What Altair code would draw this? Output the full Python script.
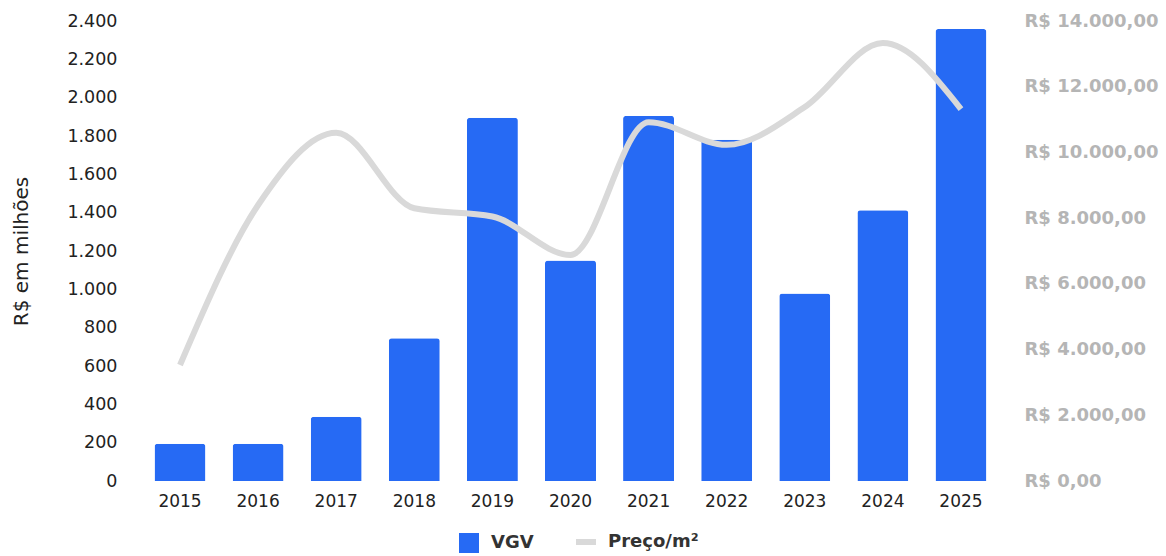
import altair as alt
import pandas as pd

# Dados anuais: VGV (R$ milhões) e preço médio do m² (R$)
anos = ["2015", "2016", "2017", "2018", "2019", "2020", "2021", "2022", "2023", "2024", "2025"]
vgv = [195, 195, 335, 745, 1895, 1150, 1905, 1780, 978, 1412, 2358]
preco_m2 = [3530, 8400, 10600, 8300, 8050, 6880, 10920, 10230, 11380, 13330, 11320]

series = ["VGV", "Preço/m²"]
cores = ["#266AF4", "#D9D9D9"]

df = pd.DataFrame({
    "ano": anos,
    "vgv": vgv,
    "preco": preco_m2,
    "serie_barra": series[0],
    "serie_linha": series[1],
})

FONT = "DejaVu Sans"

escala_cor = alt.Scale(domain=series, range=cores)

legenda = alt.Legend(
    title=None,
    orient="none",
    legendX=325,
    legendY=512,
    direction="horizontal",
    symbolSize=400,
    symbolType=alt.ExprRef(expr="datum.value === 'VGV' ? 'square' : 'stroke'"),
    symbolFillColor=alt.ExprRef(expr="datum.value === 'VGV' ? '#266AF4' : 'transparent'"),
    symbolStrokeColor=alt.ExprRef(expr="datum.value === 'VGV' ? '#266AF4' : '#D9D9D9'"),
    symbolStrokeWidth=alt.ExprRef(expr="datum.value === 'VGV' ? 0 : 6"),
    labelFont=FONT,
    labelFontSize=18,
    labelFontWeight="bold",
    labelColor="#333333",
    labelOffset=13,
    columnPadding=30,
)

eixo_x = alt.X(
    "ano:O",
    title=None,
    scale=alt.Scale(paddingInner=0.347, paddingOuter=0.25),
    axis=alt.Axis(
        labelAngle=0,
        labelFont=FONT,
        labelFontSize=17,
        labelColor="#222222",
        labelPadding=12,
        domain=False,
        ticks=False,
    ),
)

barras = alt.Chart(df).mark_bar(
    cornerRadiusTopLeft=3, cornerRadiusTopRight=3
).encode(
    x=eixo_x,
    y=alt.Y(
        "vgv:Q",
        scale=alt.Scale(domain=[0, 2400], nice=False),
        axis=alt.Axis(
            orient="left",
            title="R$ em milhões",
            values=list(range(0, 2401, 200)),
            format=",d",
            labelFont=FONT,
            labelFontSize=17.5,
            labelColor="#222222",
            labelPadding=18,
            titleFont=FONT,
            titleFontSize=20,
            titleFontWeight="normal",
            titleColor="#222222",
            titlePadding=35,
            domain=False,
            ticks=False,
            grid=False,
        ),
    ),
    color=alt.Color("serie_barra:N", scale=escala_cor, legend=legenda),
)

linha = alt.Chart(df).mark_line(
    interpolate="monotone", strokeWidth=6
).encode(
    x=eixo_x,
    y=alt.Y(
        "preco:Q",
        scale=alt.Scale(domain=[0, 14000], nice=False),
        axis=alt.Axis(
            orient="right",
            title=None,
            values=list(range(0, 14001, 2000)),
            format="$,.2f",
            labelFont=FONT,
            labelFontSize=18,
            labelFontWeight="bold",
            labelColor="#B5B5B5",
            labelPadding=18,
            domain=False,
            ticks=False,
            grid=False,
        ),
    ),
    color=alt.Color("serie_linha:N", scale=escala_cor, legend=legenda),
)

chart = alt.layer(barras, linha).resolve_scale(
    y="independent"
).properties(
    width=871,
    height=460,
    autosize=alt.AutoSizeParams(type="none"),
    padding={"left": 135, "top": 21, "right": 160, "bottom": 75},
).configure_view(
    stroke=None
)

chart.save(
    "out.html",
    embed_options={
        "renderer": "svg",
        "actions": False,
        "formatLocale": {
            "decimal": ",",
            "thousands": ".",
            "grouping": [3],
            "currency": ["R$ ", ""],
        },
    },
)
